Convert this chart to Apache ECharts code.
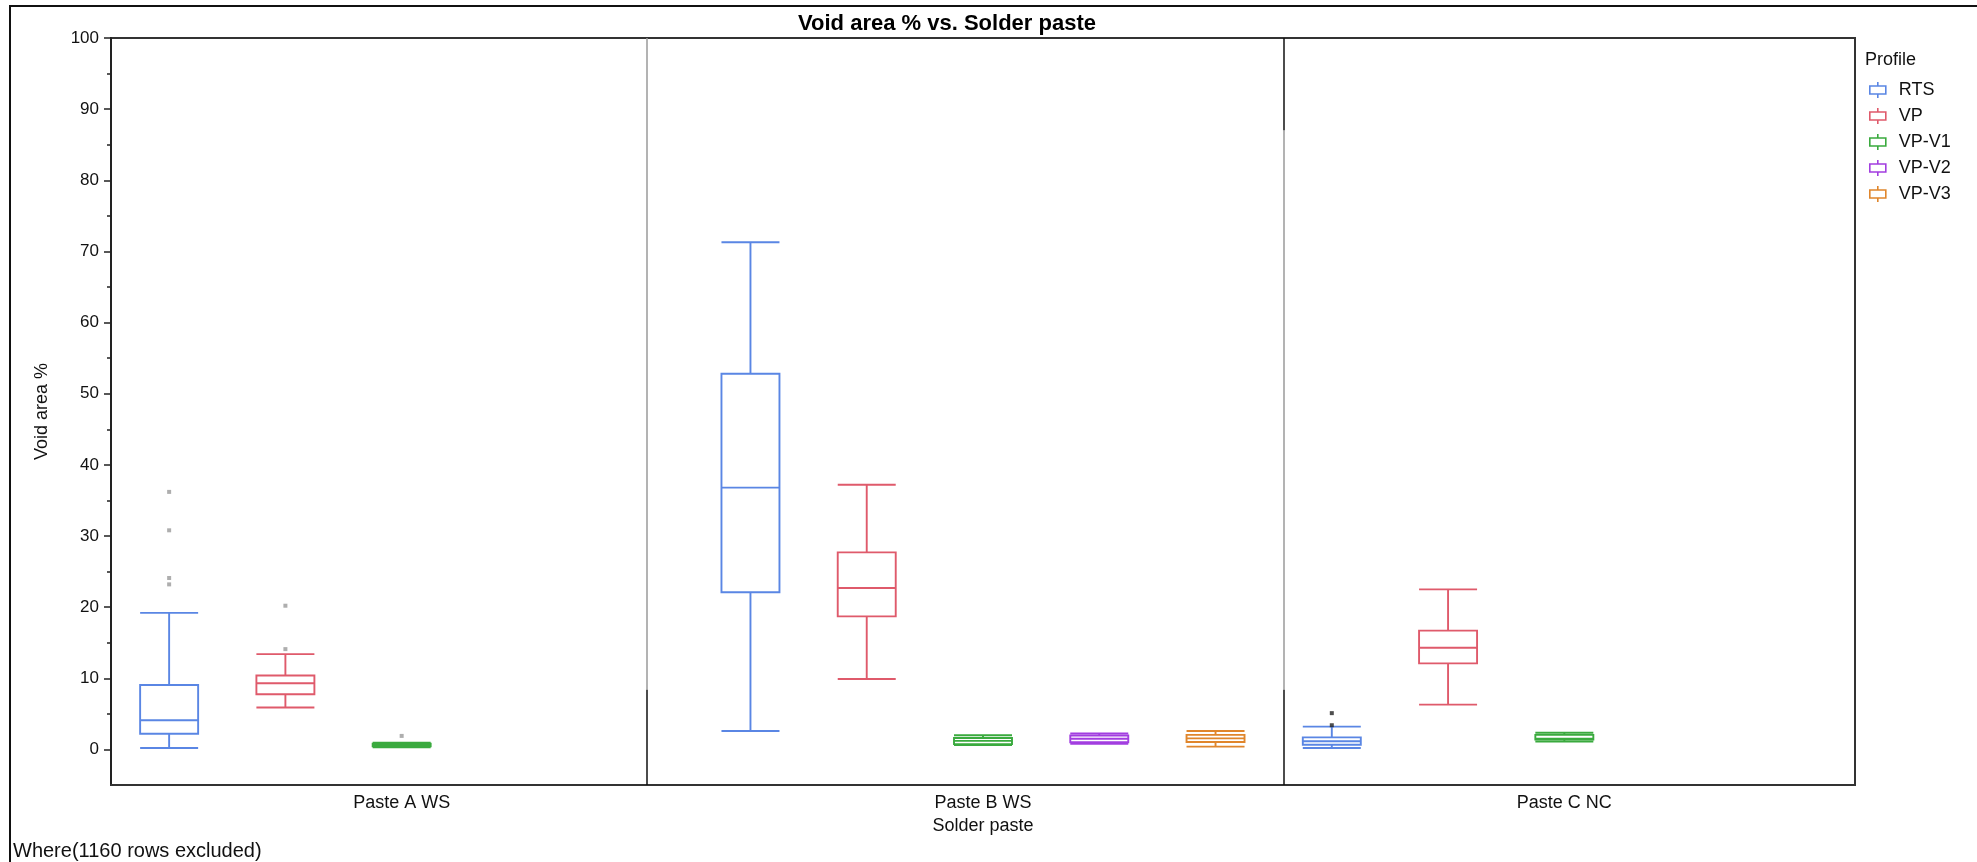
<!DOCTYPE html>
<html><head><meta charset="utf-8">
<script src="https://cdn.jsdelivr.net/npm/echarts@6/dist/echarts.min.js"></script>
<style>html,body{margin:0;padding:0;background:#fff}#c{width:1977px;height:862px}</style>
</head><body><div id="c"></div>
<script>
// ---------- data ----------
const pastes = ['Paste A WS', 'Paste B WS', 'Paste C NC'];
const profiles = ['RTS', 'VP', 'VP-V1', 'VP-V2', 'VP-V3'];
// five-number summaries [min, Q1, median, Q3, max] per paste (null = no data)
const rtsBox  = [[0.2, 2.2, 4.1, 9.05, 19.2], [2.6, 22.1, 36.8, 52.8, 71.3], [0.2, 0.65, 1.15, 1.7, 3.2]];
const vpBox   = [[5.9, 7.75, 9.3, 10.4, 13.4], [9.9, 18.7, 22.7, 27.7, 37.2], [6.3, 12.1, 14.3, 16.7, 22.5]];
const vpv1Box = [[0.3, 0.45, 0.6, 0.8, 0.95], [0.6, 0.75, 1.2, 1.6, 2.0], [1.1, 1.4, 1.5, 2.05, 2.35]];
const vpv2Box = [null, [0.8, 1.0, 1.5, 1.95, 2.25], null];
const vpv3Box = [null, [0.4, 1.05, 1.55, 2.05, 2.6], null];
// outliers: [pasteIndex, value]
const rtsOut  = [[0, 36.2], [0, 30.8], [0, 24.1], [0, 23.2], [2, 5.1], [2, 3.4]];
const vpOut   = [[0, 20.2], [0, 14.1]];
const vpv1Out = [[0, 1.9]];
const vpv2Out = [];
const vpv3Out = [];
const yTicks = [0, 10, 20, 30, 40, 50, 60, 70, 80, 90, 100];
const yMinorTicks = [5, 15, 25, 35, 45, 55, 65, 75, 85, 95];
const footnote = 'Where(1160 rows excluded)';

// ---------- build ----------
const boxes = [rtsBox, vpBox, vpv1Box, vpv2Box, vpv3Box];
const outs = [rtsOut, vpOut, vpv1Out, vpv2Out, vpv3Out];
const colors = ['#5a86e4', '#df5a6b', '#3aaa3e', '#a23ee0', '#e0862c'];
const FONT = '"Liberation Sans", Arial, sans-serif';
const nP = profiles.length;
const slots = [];
pastes.forEach(p => profiles.forEach(q => slots.push(p + ' | ' + q)));

const xAxes = [];
profiles.forEach(() => xAxes.push({
  type: 'category', data: slots, show: false, position: 'bottom', gridIndex: 0
}));
xAxes.push({
  type: 'category', data: pastes, position: 'bottom', gridIndex: 0,
  axisLine: { lineStyle: { color: '#333', width: 2 } },
  axisTick: { show: false },
  axisLabel: { fontSize: 18, color: '#111', margin: 9, fontFamily: FONT },
  splitLine: { show: false },
  name: 'Solder paste', nameLocation: 'middle', nameGap: 29,
  nameTextStyle: { fontSize: 18, color: '#111', fontFamily: FONT }
});
xAxes.push({ type: 'value', min: 0, max: slots.length, show: false, position: 'bottom', gridIndex: 0 });
const sepAxis = xAxes.length - 1;

const series = [];
profiles.forEach((name, p) => {
  const rows = [];
  boxes[p].forEach((b, i) => { if (b) rows.push([i * nP + p].concat(b)); });
  series.push({
    name: name, type: 'boxplot', xAxisIndex: p, yAxisIndex: 0,
    data: rows,
    encode: { x: 0, y: [1, 2, 3, 4, 5] },
    boxWidth: [58, 58],
    itemStyle: { color: 'rgba(255,255,255,0)', borderColor: colors[p], borderWidth: 1.9 },
    emphasis: { disabled: true }, silent: true
  });
  if (outs[p].length) {
    series.push({
      name: name + ' outliers', type: 'scatter', xAxisIndex: p, yAxisIndex: 0,
      data: outs[p].map(o => [o[0] * nP + p, o[1]]),
      symbol: 'rect', symbolSize: 4,
      itemStyle: { color: (prm) => (Math.floor(prm.data[0] / nP) === 2 ? '#222' : '#9a9a9a') },
      emphasis: { disabled: true }, silent: true
    });
  }
});
// group separators (as drawn by the source software)
const s1 = 4.61, s2 = 10.09;
const seg = (x, a, b, c) => [{ coord: [x, a], lineStyle: { color: c } }, { coord: [x, b] }];
series.push({
  type: 'line', xAxisIndex: sepAxis, yAxisIndex: 0, data: [], silent: true,
  markLine: {
    silent: true, symbol: 'none', label: { show: false }, animation: false,
    lineStyle: { type: 'solid', width: 1.5 },
    data: [
      seg(s1, 100, 8.4, '#9a9a9a'), seg(s1, 8.4, -5, '#111'),
      seg(s2, 100, 87, '#111'), seg(s2, 87, 8.4, '#9a9a9a'), seg(s2, 8.4, -5, '#111')
    ]
  }
});

const boxIcon = 'path://M9,0L9,4M1,4L17,4L17,12L1,12ZM9,12L9,16';

const option = {
  animation: false,
  backgroundColor: '#fff',
  textStyle: { fontFamily: FONT },
  title: {
    text: 'Void area % vs. Solder paste', left: 942, top: 8, textAlign: 'center',
    textStyle: { fontSize: 22, fontWeight: 'bold', color: '#000', fontFamily: FONT }
  },
  grid: { left: 111, top: 38, right: 122, bottom: 77, show: true, borderColor: '#333', borderWidth: 2, containLabel: false },
  legend: {
    orient: 'vertical', left: 1869, top: 80, itemWidth: 18, itemHeight: 16, itemGap: 6,
    padding: 0, selectedMode: false,
    textStyle: { fontSize: 18, color: '#111', lineHeight: 20, padding: [0, 0, 0, 7], fontFamily: FONT },
    data: profiles.map((n, i) => ({
      name: n, icon: boxIcon,
      itemStyle: { color: 'rgba(0,0,0,0)', borderColor: colors[i], borderWidth: 1.6 }
    }))
  },
  xAxis: xAxes,
  yAxis: [{
    type: 'value', min: -5, max: 100, position: 'left',
    axisLine: { show: true, lineStyle: { color: '#222', width: 2 } },
    axisTick: { show: true, customValues: yTicks, length: 7, lineStyle: { color: '#222', width: 1.5 } },
    axisLabel: { customValues: yTicks, fontSize: 17, color: '#111', margin: 12, fontFamily: FONT },
    splitLine: { show: false },
    name: 'Void area %', nameLocation: 'middle', nameGap: 60,
    nameTextStyle: { fontSize: 18, color: '#111', fontFamily: FONT }
  }, {
    type: 'value', min: -5, max: 100, position: 'left',
    axisLine: { show: false },
    axisTick: { show: true, customValues: yMinorTicks, length: 4, lineStyle: { color: '#222', width: 1.5 } },
    axisLabel: { show: false }, splitLine: { show: false }
  }],
  graphic: [
    { type: 'rect', silent: true, z: -1, shape: { x: 10, y: 6, width: 2200, height: 1200 },
      style: { fill: 'none', stroke: '#111', lineWidth: 2 } },
    { type: 'text', silent: true, x: 1865, y: 60,
      style: { text: 'Profile', fontSize: 18, fill: '#111', fontFamily: FONT, verticalAlign: 'middle', align: 'left' } },
    { type: 'text', silent: true, x: 13, y: 851,
      style: { text: footnote, fontSize: 20, fill: '#111', fontFamily: FONT, verticalAlign: 'middle', align: 'left' } }
  ],
  series: series
};
const chart = echarts.init(document.getElementById('c'), null, { renderer: 'canvas' });
chart.setOption(option);
</script>
</body></html>
